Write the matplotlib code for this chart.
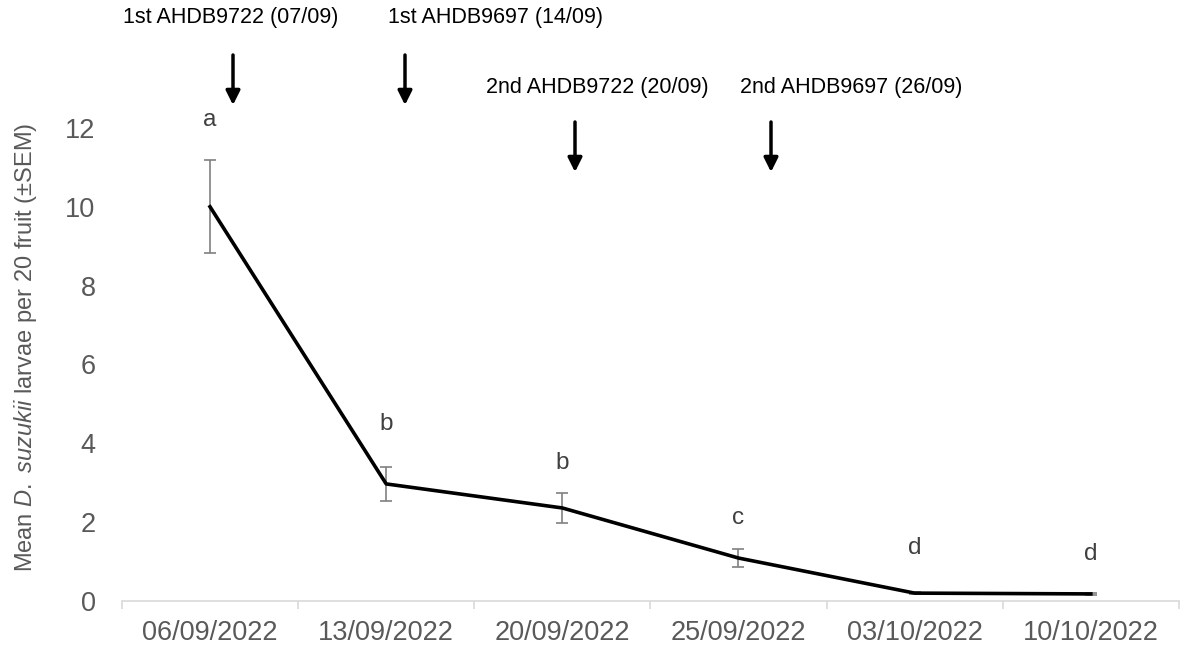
import matplotlib
matplotlib.use("Agg")
import matplotlib.pyplot as plt

plt.rcParams["font.family"] = ["Liberation Sans", "DejaVu Sans"]
plt.rcParams["mathtext.fontset"] = "custom"
plt.rcParams["mathtext.rm"] = "Liberation Sans"
plt.rcParams["mathtext.it"] = "Liberation Sans:italic"

dates = ["06/09/2022", "13/09/2022", "20/09/2022", "25/09/2022", "03/10/2022", "10/10/2022"]
larvae = [10.0, 2.97, 2.36, 1.09, 0.20, 0.18]
sem = [1.18, 0.43, 0.38, 0.23, 0.03, 0.03]
letters = ["a", "b", "b", "c", "d", "d"]
letter_y = [12.2, 4.5, 3.5, 2.1, 1.35, 1.2]

sprays = ["1st AHDB9722 (07/09)", "1st AHDB9697 (14/09)",
          "2nd AHDB9722 (20/09)", "2nd AHDB9697 (26/09)"]

grey = "#595959"

fig = plt.figure(figsize=(11.92, 6.59), dpi=100)
ax = fig.add_axes([0.1023, 0.088, 0.8867, 0.8376])

x = list(range(len(dates)))
ax.errorbar(x, larvae, yerr=sem, fmt="none", ecolor="#808080", elinewidth=1.2,
            capsize=4, capthick=1.2, zorder=2)
ax.plot(x, larvae, color="black", lw=2.6, zorder=3)

for xi, (lab, ly) in enumerate(zip(letters, letter_y)):
    ax.text(xi, ly, lab, ha="center", va="center", fontsize=17.5, color="#404040")

ax.set_xlim(-0.5, len(dates) - 0.5)
ax.set_ylim(0, 14)
ax.set_yticks(range(0, 13, 2))
ax.set_xticks(x)
ax.set_xticklabels(dates)
ax.set_xticks([i - 0.5 for i in range(len(dates) + 1)], minor=True)
ax.tick_params(axis="x", which="major", length=0, labelsize=19.5, labelcolor=grey, pad=14)
ax.tick_params(axis="x", which="minor", length=6, color="#d9d9d9", width=1.2)
ax.tick_params(axis="y", length=0, labelsize=19.5, labelcolor=grey, pad=19)
for s in ["top", "right", "left"]:
    ax.spines[s].set_visible(False)
ax.spines["bottom"].set_color("#d9d9d9")
ax.spines["bottom"].set_linewidth(1.2)

ax.set_ylabel(r"Mean $\mathit{D.\ suzukii}$ larvae per 20 fruit (±SEM)",
              fontsize=17, color=grey)
ax.yaxis.set_label_coords(-0.078, 0.46)

# spray timings: label text and arrow positions in figure pixels (text x, arrow x, text y, arrow top, arrow tip)
W, H = 1192, 659
spray_pos = [(231, 233, 18, 55, 105), (496, 405, 18, 55, 105),
             (597, 575, 88, 122, 172), (851, 771, 88, 122, 172)]
for txt, (tx, ax_x, ty, a0, a1) in zip(sprays, spray_pos):
    fig.text(tx / W, 1 - ty / H, txt, ha="center", va="center", fontsize=15.5, color="black")
    fig.add_artist(matplotlib.patches.FancyArrowPatch(
        (ax_x / W, 1 - a0 / H), (ax_x / W, 1 - a1 / H), transform=fig.transFigure,
        arrowstyle="-|>,head_length=0.6,head_width=0.3", mutation_scale=14,
        color="black", lw=2.5, shrinkA=0, shrinkB=0))

fig.savefig("out.png", dpi=100)
